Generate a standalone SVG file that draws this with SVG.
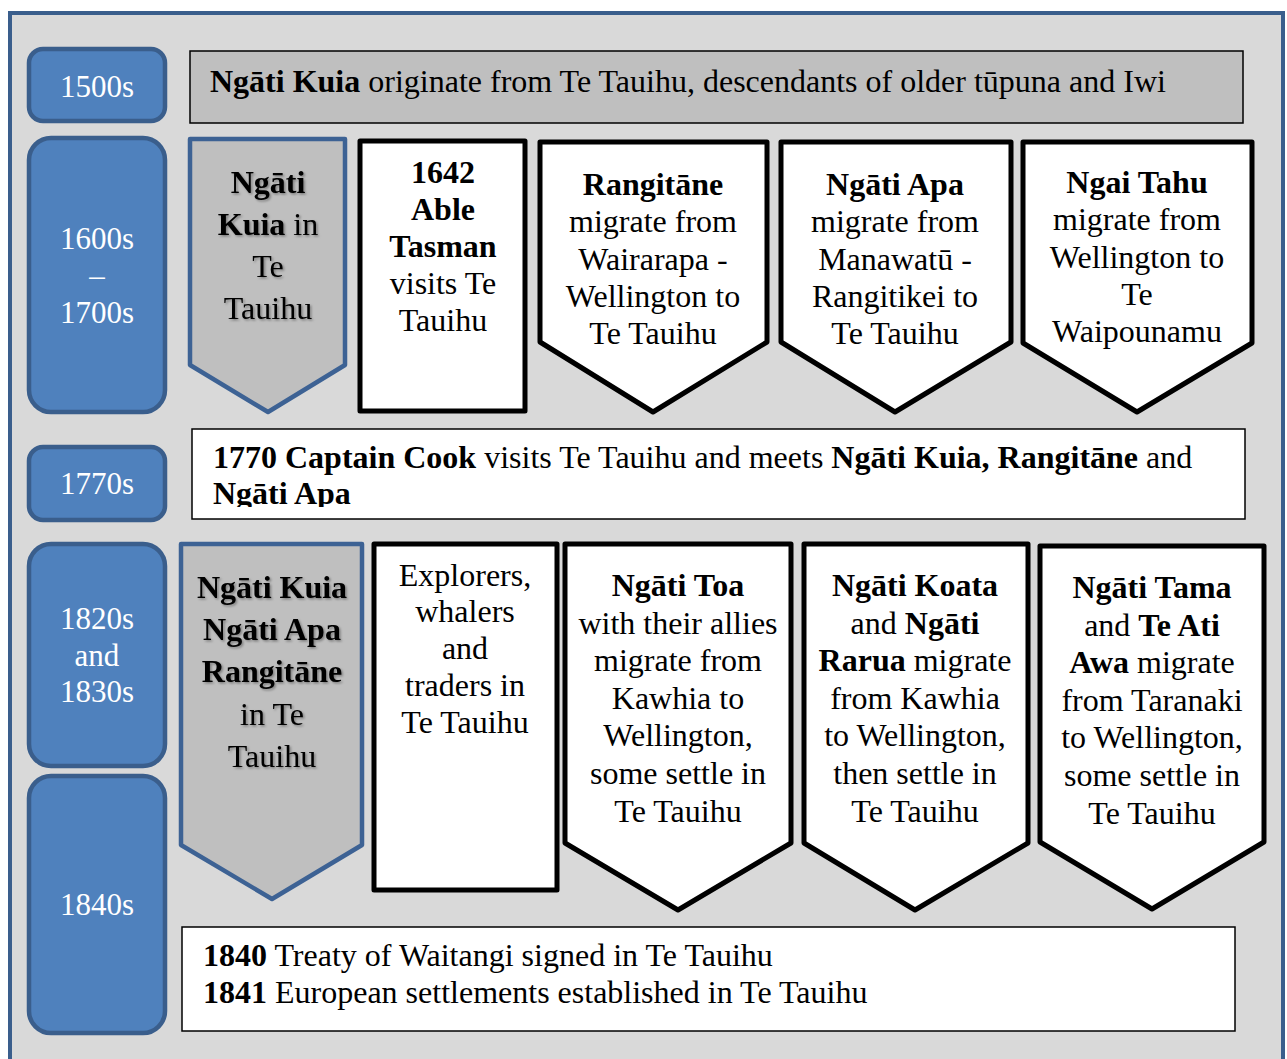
<svg xmlns="http://www.w3.org/2000/svg" width="1287" height="1059" viewBox="0 0 1287 1059">
<style>
text{font-family:"Liberation Serif","Times New Roman",serif;font-size:32px;fill:#000}
.c{text-anchor:middle}
.b{font-weight:bold}
.yr{fill:#fff;font-size:31px;text-anchor:middle}
.year{fill:#4f81bd;stroke:#3a5e8c;stroke-width:4.5}
.gch{fill:#bfbfbf;stroke:#3d6294;stroke-width:4.5;stroke-linejoin:round}
.wch{fill:#fff;stroke:#000;stroke-width:5;stroke-linejoin:round}
.ban{stroke:#000;stroke-width:1.5}
.sh{filter:url(#shadow)}
</style>
<defs>
<filter id="shadow" x="-10%" y="-10%" width="130%" height="130%">
<feDropShadow dx="1.5" dy="1.5" stdDeviation="1.2" flood-color="#000" flood-opacity="0.35"/>
</filter>
<clipPath id="clip1770"><rect x="192" y="429" width="1053" height="78"/></clipPath>
</defs>
<rect id="frame" x="10" y="13" width="1273" height="1070" fill="#d9d9d9" stroke="#3a5e8c" stroke-width="4"/>

<g id="connectors"></g>

<g id="y1500"><rect class="year" x="29" y="49" width="136" height="72" rx="14"/><text class="yr" x="97" y="97">1500s</text></g>
<g id="y1600"><rect class="year" x="29" y="138" width="136" height="274" rx="22"/>
<text class="yr"><tspan x="97" y="249">1600s</tspan><tspan x="97" y="286">–</tspan><tspan x="97" y="323">1700s</tspan></text></g>
<g id="y1770"><rect class="year" x="29" y="447" width="136" height="73" rx="14"/><text class="yr" x="97" y="494">1770s</text></g>
<g id="y1820"><rect class="year" x="29" y="544" width="136" height="222" rx="22"/>
<text class="yr"><tspan x="97" y="629">1820s</tspan><tspan x="97" y="666">and</tspan><tspan x="97" y="702">1830s</tspan></text></g>
<g id="y1840"><rect class="year" x="29" y="776" width="136" height="257" rx="22"/><text class="yr" x="97" y="915">1840s</text></g>

<g id="b1500"><rect class="ban" x="190" y="51" width="1053" height="72" fill="#bfbfbf"/>
<text x="210" y="92"><tspan class="b">Ngāti Kuia</tspan> originate from Te Tauihu, descendants of older tūpuna and Iwi</text></g>

<g id="n1"><path class="gch" d="M190,139 H345 V365 L268,412 L190,365 Z"/>
<text class="c sh"><tspan x="268" y="193" class="b">Ngāti</tspan><tspan x="268" y="235"><tspan class="b">Kuia</tspan> in</tspan><tspan x="268" y="277">Te</tspan><tspan x="268" y="319">Tauihu</tspan></text></g>

<g id="n2"><rect class="wch" x="360" y="141" width="165" height="270"/>
<text class="c"><tspan x="443" y="183" class="b">1642</tspan><tspan x="443" y="220" class="b">Able</tspan><tspan x="443" y="257" class="b">Tasman</tspan><tspan x="443" y="294">visits Te</tspan><tspan x="443" y="331">Tauihu</tspan></text></g>

<g id="n3"><path class="wch" d="M540,142 H767 V342 L653,412 L540,342 Z"/>
<text class="c"><tspan x="653" y="195" class="b">Rangitāne</tspan><tspan x="653" y="232">migrate from</tspan><tspan x="653" y="270">Wairarapa -</tspan><tspan x="653" y="307">Wellington to</tspan><tspan x="653" y="344">Te Tauihu</tspan></text></g>

<g id="n4"><path class="wch" d="M781,142 H1011 V342 L895,412 L781,342 Z"/>
<text class="c"><tspan x="895" y="195" class="b">Ngāti Apa</tspan><tspan x="895" y="232">migrate from</tspan><tspan x="895" y="270">Manawatū -</tspan><tspan x="895" y="307">Rangitikei to</tspan><tspan x="895" y="344">Te Tauihu</tspan></text></g>

<g id="n5"><path class="wch" d="M1023,142 H1252 V343 L1137,412 L1023,343 Z"/>
<text class="c"><tspan x="1137" y="193" class="b">Ngai Tahu</tspan><tspan x="1137" y="230">migrate from</tspan><tspan x="1137" y="268">Wellington to</tspan><tspan x="1137" y="305">Te</tspan><tspan x="1137" y="342">Waipounamu</tspan></text></g>

<g id="b1770"><rect class="ban" x="192" y="429" width="1053" height="90" fill="#fff"/>
<text clip-path="url(#clip1770)"><tspan x="213" y="468"><tspan class="b">1770 Captain Cook</tspan> visits Te Tauihu and meets <tspan class="b">Ngāti Kuia, Rangitāne</tspan> and</tspan><tspan x="213" y="504" class="b">Ngāti Apa</tspan></text></g>

<g id="n6"><path class="gch" d="M181,544 H362 V845 L272,899 L181,845 Z"/>
<text class="c sh"><tspan x="272" y="598" class="b">Ngāti Kuia</tspan><tspan x="272" y="640" class="b">Ngāti Apa</tspan><tspan x="272" y="682" class="b">Rangitāne</tspan><tspan x="272" y="725">in Te</tspan><tspan x="272" y="767">Tauihu</tspan></text></g>

<g id="n7"><rect class="wch" x="374" y="544" width="183" height="346"/>
<text class="c"><tspan x="465" y="586">Explorers,</tspan><tspan x="465" y="622">whalers</tspan><tspan x="465" y="659">and</tspan><tspan x="465" y="696">traders in</tspan><tspan x="465" y="733">Te Tauihu</tspan></text></g>

<g id="n8"><path class="wch" d="M565,544 H791 V843 L678,910 L565,843 Z"/>
<text class="c"><tspan x="678" y="596" class="b">Ngāti Toa</tspan><tspan x="678" y="634">with their allies</tspan><tspan x="678" y="671">migrate from</tspan><tspan x="678" y="709">Kawhia to</tspan><tspan x="678" y="746">Wellington,</tspan><tspan x="678" y="784">some settle in</tspan><tspan x="678" y="822">Te Tauihu</tspan></text></g>

<g id="n9"><path class="wch" d="M804,544 H1028 V843 L915,910 L804,843 Z"/>
<text class="c"><tspan x="915" y="596" class="b">Ngāti Koata</tspan><tspan x="915" y="634">and <tspan class="b">Ngāti</tspan></tspan><tspan x="915" y="671"><tspan class="b">Rarua</tspan> migrate</tspan><tspan x="915" y="709">from Kawhia</tspan><tspan x="915" y="746">to Wellington,</tspan><tspan x="915" y="784">then settle in</tspan><tspan x="915" y="822">Te Tauihu</tspan></text></g>

<g id="n10"><path class="wch" d="M1040,546 H1264 V842 L1152,909 L1040,842 Z"/>
<text class="c"><tspan x="1152" y="598" class="b">Ngāti Tama</tspan><tspan x="1152" y="636">and <tspan class="b">Te Ati</tspan></tspan><tspan x="1152" y="673"><tspan class="b">Awa</tspan> migrate</tspan><tspan x="1152" y="711">from Taranaki</tspan><tspan x="1152" y="748">to Wellington,</tspan><tspan x="1152" y="786">some settle in</tspan><tspan x="1152" y="824">Te Tauihu</tspan></text></g>

<g id="b1840"><rect class="ban" x="182" y="927" width="1053" height="104" fill="#fff"/>
<text><tspan x="203" y="966"><tspan class="b">1840</tspan> Treaty of Waitangi signed in Te Tauihu</tspan><tspan x="203" y="1003"><tspan class="b">1841</tspan> European settlements established in Te Tauihu</tspan></text></g>
</svg>
